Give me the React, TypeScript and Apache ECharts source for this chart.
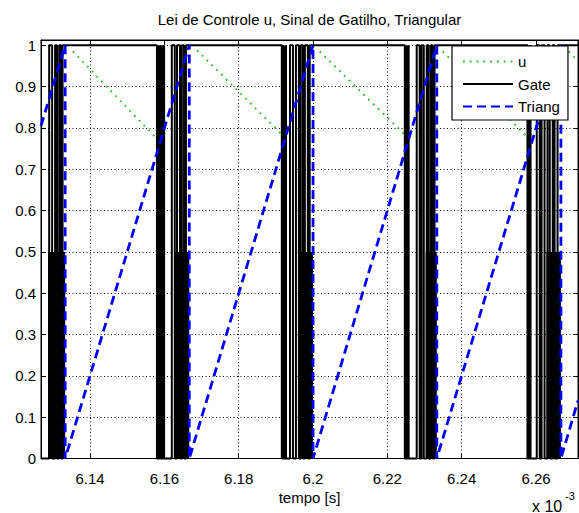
import React, { useEffect, useRef } from 'react';
import * as echarts from 'echarts';

// time axis in units of 1e-3 s (shown with "x 10^-3")
const X_MIN = 6.1268;
const X_MAX = 6.2713;
const Y_MIN = 0;
const Y_MAX = 1.0128;

const xTicks = [6.14, 6.16, 6.18, 6.2, 6.22, 6.24, 6.26];
const yTicks = [0, 0.1, 0.2, 0.3, 0.4, 0.5, 0.6, 0.7, 0.8, 0.9, 1];

const seriesNames = ['u', 'Gate', 'Triang'];

// control law u (dotted); null breaks where it is hidden
const uData: (number | null)[][] = [
  [6.1354, 0.985], [6.1589, 0.765], [6.1590, null],
  [6.1688, 0.988], [6.1925, 0.776], [6.1926, null],
  [6.2018, 0.985], [6.2257, 0.775], [6.2258, null],
  [6.2349, 0.985], [6.2585, 0.770], [6.2586, null],
  [6.2688, 0.985], [6.2713, 0.962],
];

// triangular carrier (sawtooth)
const triangData: number[][] = [
  [6.1268, 0.805], [6.1333, 1], [6.1333, 0],
  [6.1667, 1], [6.1667, 0],
  [6.2, 1], [6.2, 0],
  [6.2333, 1], [6.2333, 0],
  [6.2667, 1], [6.2667, 0],
  [6.2713, 0.14],
];

// gate signal (step)
const gateData: number[][] = [
  [6.1268, 0],
  [6.1290, 0], [6.1290, 1], [6.1298, 1], [6.1298, 0],
  [6.1306, 0], [6.1306, 1], [6.1311, 1], [6.1311, 0],
  [6.1317, 0], [6.1317, 1], [6.1322, 1], [6.1322, 0],
  [6.1326, 0], [6.1326, 1],
  [6.1580, 1], [6.1580, 0],
  [6.1620, 0], [6.1620, 1], [6.1628, 1], [6.1628, 0],
  [6.1634, 0], [6.1634, 1], [6.1642, 1], [6.1642, 0],
  [6.1647, 0], [6.1647, 1], [6.1653, 1], [6.1653, 0],
  [6.1658, 0], [6.1658, 1],
  [6.1916, 1], [6.1916, 0],
  [6.1938, 0], [6.1938, 1], [6.1946, 1], [6.1946, 0],
  [6.1954, 0], [6.1954, 1], [6.1962, 1], [6.1962, 0],
  [6.1967, 0], [6.1967, 1], [6.1973, 1], [6.1973, 0],
  [6.1978, 0], [6.1978, 1], [6.1986, 1], [6.1986, 0],
  [6.1991, 0], [6.1991, 1],
  [6.2247, 1], [6.2247, 0],
  [6.2279, 0], [6.2279, 1], [6.2287, 1], [6.2287, 0],
  [6.2292, 0], [6.2292, 1], [6.2298, 1], [6.2298, 0],
  [6.2306, 0], [6.2306, 1], [6.2311, 1], [6.2311, 0],
  [6.2317, 0], [6.2317, 1], [6.2322, 1], [6.2322, 0],
  [6.2327, 0], [6.2327, 1],
  [6.2577, 1], [6.2577, 0],
  [6.2602, 0], [6.2602, 1], [6.2610, 1], [6.2610, 0],
  [6.2615, 0], [6.2615, 1], [6.2623, 1], [6.2623, 0],
  [6.2631, 0], [6.2631, 1], [6.2637, 1], [6.2637, 0],
  [6.2645, 0], [6.2645, 1], [6.2650, 1], [6.2650, 0],
  [6.2658, 0], [6.2658, 1],
  [6.2713, 1],
];

// regions where the gate chatters so fast it renders solid: [start, end, top level]
const gateDenseBands: number[][] = [
  [6.1287, 6.1333, 0.5],
  [6.1580, 6.1602, 1],
  [6.1628, 6.1667, 0.5],
  [6.1916, 6.1930, 1],
  [6.1967, 6.2000, 0.5],
  [6.2247, 6.2260, 1],
  [6.2303, 6.2333, 0.5],
  [6.2577, 6.2588, 1],
  [6.2628, 6.2667, 0.5],
];

const FONT = "'Liberation Sans', Arial, Helvetica, sans-serif";
const fmt = (v: number) => String(parseFloat(Number(v).toFixed(2)));

export default function App() {
  const ref = useRef<HTMLDivElement>(null);
  useEffect(() => {
    document.body.style.margin = '0';
    const chart = echarts.init(ref.current!, null, { renderer: 'svg' });
    const gridLine = { show: true, lineStyle: { color: '#000', type: [1, 2.5] as any, width: 1 } };
    const baseX = {
      type: 'value' as const, min: X_MIN, max: X_MAX,
      axisLine: { show: true, onZero: false, lineStyle: { color: '#000', width: 1 } },
      axisTick: { show: true, inside: true, length: 5, customValues: xTicks, lineStyle: { color: '#000' } },
    };
    const baseY = {
      type: 'value' as const, min: Y_MIN, max: Y_MAX,
      axisLine: { show: true, onZero: false, lineStyle: { color: '#000', width: 1 } },
      axisTick: { show: true, inside: true, length: 5, customValues: yTicks, lineStyle: { color: '#000' } },
    };
    chart.setOption({
      animation: false,
      backgroundColor: '#fff',
      grid: { left: 41, right: 1, top: 40, bottom: 54.5, show: true, borderColor: '#000', borderWidth: 1, backgroundColor: '#fff' },
      xAxis: [
        { ...baseX, position: 'bottom',
          axisLabel: { show: true, customValues: xTicks, formatter: fmt, color: '#000', fontSize: 15, fontFamily: FONT, margin: 12 },
          splitLine: gridLine },
        { ...baseX, position: 'top', axisLabel: { show: false }, splitLine: { show: false } },
      ],
      yAxis: [
        { ...baseY, position: 'left',
          axisLabel: { show: true, customValues: yTicks, formatter: fmt, color: '#000', fontSize: 15, fontFamily: FONT, margin: 5 },
          splitLine: gridLine },
        { ...baseY, position: 'right', axisLabel: { show: false }, splitLine: { show: false } },
      ],
      legend: {
        data: seriesNames, orient: 'vertical', left: 452, top: 46, padding: [8, 8, 6, 10], itemGap: 7.5,
        itemWidth: 50, itemHeight: 14, backgroundColor: '#fff', borderColor: '#000', borderWidth: 1.2, z: 20,
        itemStyle: { opacity: 0 },
        textStyle: { fontSize: 15, color: '#000', fontFamily: FONT }, align: 'left',
      },
      graphic: [
        { type: 'text', x: 309.5, y: 19, style: { text: 'Lei de Controle u, Sinal de Gatilho, Triangular', align: 'center', verticalAlign: 'middle', fontSize: 15, fontFamily: FONT, fill: '#000' } },
        { type: 'text', x: 309.5, y: 497, style: { text: 'tempo [s]', align: 'center', verticalAlign: 'middle', fontSize: 15, fontFamily: FONT, fill: '#000' } },
        { type: 'text', x: 532, y: 506, style: { text: 'x 10', align: 'left', verticalAlign: 'middle', fontSize: 16, fontFamily: FONT, fill: '#000' } },
        { type: 'text', x: 565, y: 496, style: { text: '-3', align: 'left', verticalAlign: 'middle', fontSize: 11, fontFamily: FONT, fill: '#000' } },
      ],
      series: [
        { name: 'u', type: 'line', data: uData, symbol: 'none', showSymbol: false, connectNulls: false, z: 2,
          lineStyle: { color: '#22c022', width: 1.8, type: [1.8, 5] }, itemStyle: { color: '#22c022' } },
        { name: 'gateDense', type: 'custom', data: gateDenseBands, z: 3, silent: true,
          encode: { x: [0, 1], y: 2 },
          renderItem: (params: any, api: any) => {
            const p0 = api.coord([api.value(0), api.value(2)]);
            const p1 = api.coord([api.value(1), 0]);
            return { type: 'rect', shape: { x: p0[0], y: p0[1], width: p1[0] - p0[0], height: p1[1] - p0[1] }, style: { fill: '#000' } };
          } },
        { name: 'Gate', type: 'line', data: gateData, symbol: 'none', showSymbol: false, z: 4, clip: false,
          lineStyle: { color: '#000', width: 2 }, itemStyle: { color: '#000' } },
        { name: 'Triang', type: 'line', data: triangData, symbol: 'none', showSymbol: false, z: 5, clip: false,
          lineStyle: { color: '#0000ff', width: 2.8, type: [9, 5] }, itemStyle: { color: '#0000ff' } },
      ],
    });
    return () => chart.dispose();
  }, []);
  return <div ref={ref} style={{ width: 579, height: 513, background: '#fff' }} />;
}
